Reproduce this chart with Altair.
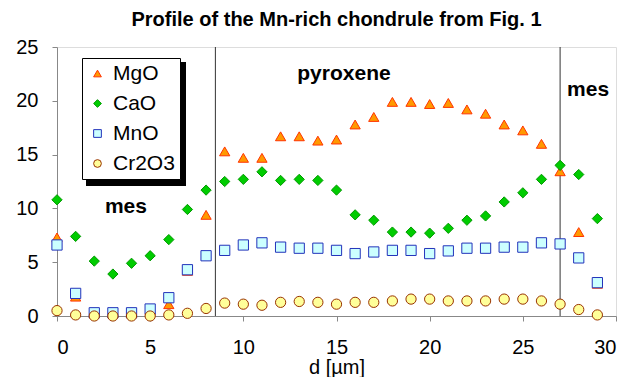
import altair as alt
import pandas as pd

# ---- data ----
d = list(range(30))
series_names = ["MgO", "CaO", "MnO", "Cr2O3"]
mgo = [7.3, 1.8, 0.3, 0.3, 0.3, 0.5, 1.1, 4.2, 9.4, 15.3, 14.7, 14.7, 16.7, 16.7, 16.3,
       16.4, 17.8, 18.5, 19.9, 19.9, 19.7, 19.8, 19.2, 18.8, 17.8, 17.25, 16.0, 13.45, 7.8, 3.0]
cao = [10.8, 7.4, 5.1, 3.9, 4.9, 5.6, 7.1, 9.9, 11.7, 12.5, 12.7, 13.4, 12.6, 12.7, 12.6,
       11.7, 9.4, 8.9, 7.8, 7.8, 7.7, 8.15, 8.9, 9.3, 10.6, 11.45, 12.7, 14.0, 13.15, 9.05]
mno = [6.6, 2.1, 0.3, 0.3, 0.3, 0.65, 1.7, 4.3, 5.6, 6.1, 6.6, 6.8, 6.4, 6.3, 6.3,
       6.1, 5.8, 5.95, 6.1, 6.1, 5.8, 6.05, 6.3, 6.3, 6.4, 6.4, 6.8, 6.7, 5.4, 3.1]
cr2o3 = [0.5, 0.1, 0.0, 0.0, 0.0, 0.0, 0.1, 0.25, 0.7, 1.2, 1.1, 1.0, 1.27, 1.35, 1.27,
         1.1, 1.27, 1.27, 1.4, 1.57, 1.57, 1.4, 1.4, 1.4, 1.57, 1.57, 1.4, 1.1, 0.6, 0.1]

boundaries = [8.5, 27.0]
ann_text = ["mes", "pyroxene", "mes"]
ann_x = [3.7, 15.4, 28.5]
ann_y = [9.6, 21.9, 20.4]

x_ticks = [0, 5, 10, 15, 20, 25, 30]
y_ticks = [0, 5, 10, 15, 20, 25]

# ---- styles ----
shapes = ["triangle-up", "diamond", "square", "circle"]
fills = ["#FF9900", "#00CC00", "#CCFFFF", "#FFFF99"]
strokes = ["#FF3300", "#009900", "#2233BB", "#993300"]
FONT = "Liberation Sans"

rows = []
for name, vals in zip(series_names, [mgo, cao, mno, cr2o3]):
    for xi, yi in zip(d, vals):
        rows.append({"d": xi, "v": yi, "series": name})
df = pd.DataFrame(rows)

xscale = alt.Scale(domain=[0, 30], nice=False, zero=False)
yscale = alt.Scale(domain=[0, 25], nice=False)

legend = alt.Legend(
    title=None, orient="none", legendX=25, legendY=11,
    strokeColor="black", fillColor="white", padding=5,
    labelFontSize=21, labelFont=FONT, labelColor="black",
    symbolSize=60, symbolStrokeWidth=1, rowPadding=8, labelOffset=5,
    cornerRadius=0,
)

sel_domain = series_names

points = alt.Chart(df).mark_point(filled=True, size=105, strokeWidth=1, opacity=1).encode(
    x=alt.X("d:Q", scale=xscale,
            axis=alt.Axis(values=x_ticks, title="d [µm]", grid=False, tickSize=5,
                          labelPadding=16, labelFontSize=20, titleFontSize=20,
                          titleFontWeight="normal", titleY=57, titleBaseline="alphabetic",
                          labelFont=FONT, titleFont=FONT)),
    y=alt.Y("v:Q", scale=yscale,
            axis=alt.Axis(values=y_ticks, title=None, grid=False, tickSize=5,
                          labelPadding=14, labelFontSize=20, labelFont=FONT)),
    shape=alt.Shape("series:N", scale=alt.Scale(domain=sel_domain, range=shapes), legend=legend),
    fill=alt.Fill("series:N", scale=alt.Scale(domain=sel_domain, range=fills), legend=legend),
    stroke=alt.Stroke("series:N", scale=alt.Scale(domain=sel_domain, range=strokes), legend=legend),
)

vdf = pd.DataFrame({"b": boundaries})
vlines = alt.Chart(vdf).mark_rule(color="#333333", strokeWidth=1).encode(
    x=alt.X("b:Q", scale=xscale)
)

adf = pd.DataFrame({"t": ann_text, "x": ann_x, "y": ann_y})
labels = alt.Chart(adf).mark_text(fontSize=21, fontWeight="bold", font=FONT,
                                  color="black", baseline="alphabetic", align="center").encode(
    x=alt.X("x:Q", scale=xscale), y=alt.Y("y:Q", scale=yscale), text="t:N"
)

# legend drop shadow (decoration)
shadow = alt.Chart(pd.DataFrame({"a": [0]})).mark_rect(color="black").encode(
    x=alt.value(29), x2=alt.value(129), y=alt.value(15), y2=alt.value(139)
)

chart = alt.layer(vlines, shadow, points, labels).properties(
    width=559, height=269,
    title=alt.TitleParams("Profile of the Mn-rich chondrule from Fig. 1", fontSize=20,
                          font=FONT, fontWeight="bold", color="black", anchor="middle",
                          offset=0, dy=9, baseline="alphabetic"),
    autosize=alt.AutoSizeParams(type="none"),
    padding={"left": 49, "top": 39, "right": 3, "bottom": 61},
).configure_view(stroke="black", strokeWidth=1).configure_axis(
    domainColor="black", tickColor="black", labelColor="black", titleColor="black"
).configure(background="white")

chart.save("out.html", embed_options={"renderer": "svg", "actions": False})
